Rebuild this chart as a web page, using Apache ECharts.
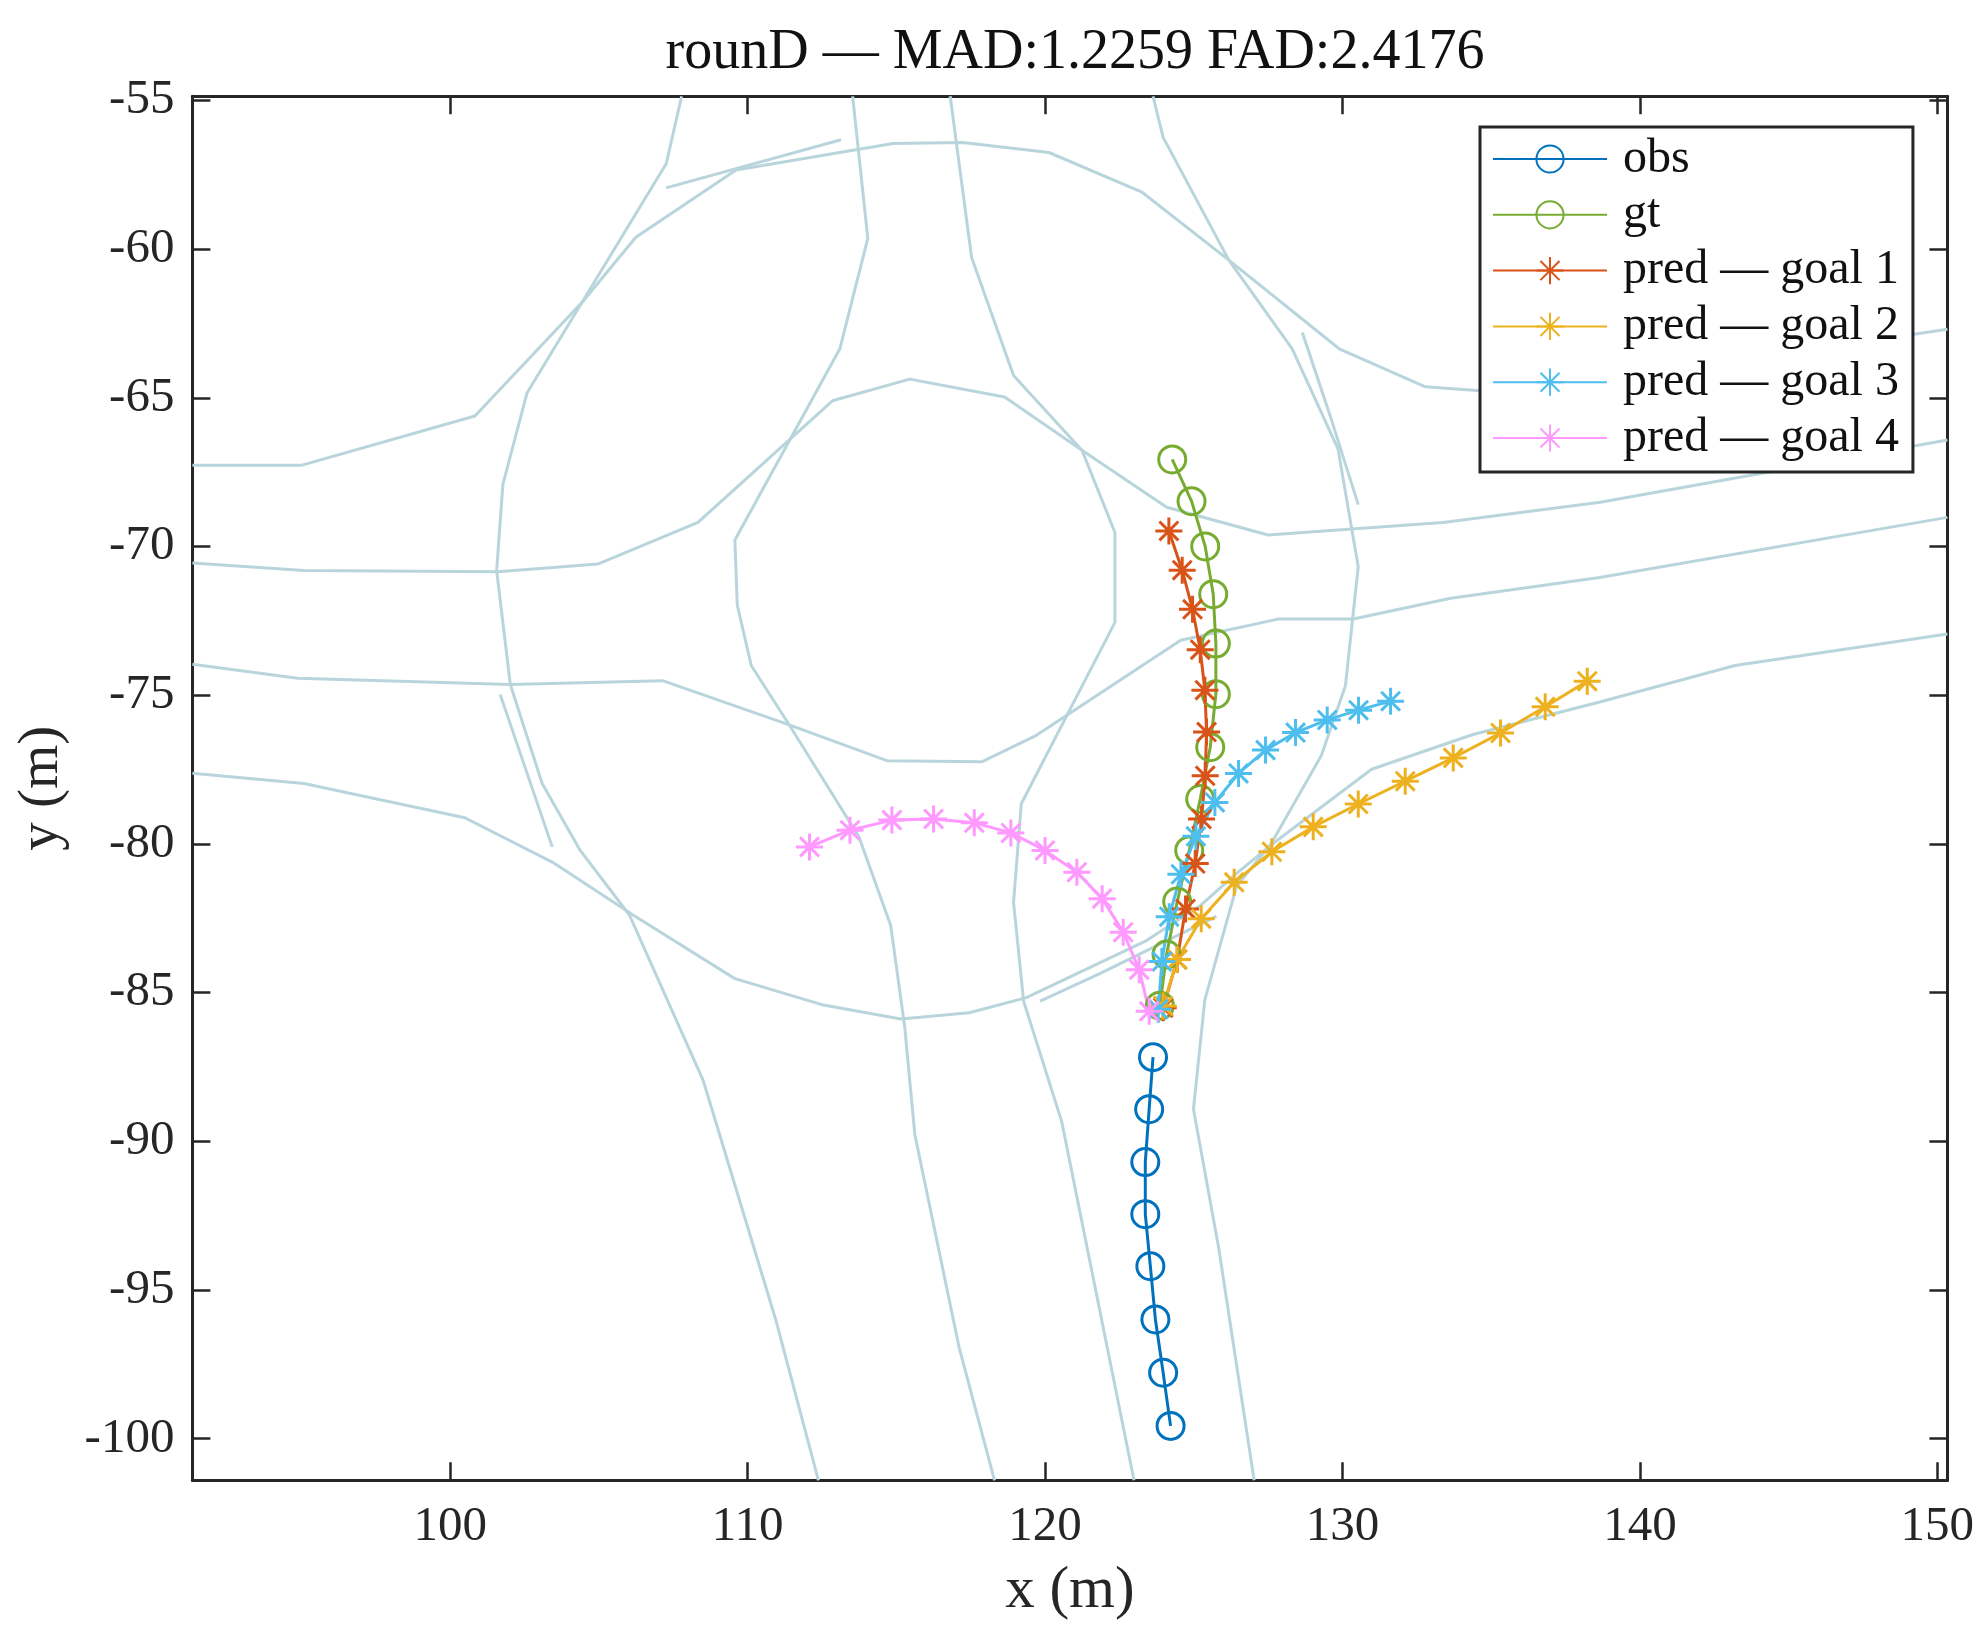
<!DOCTYPE html>
<html><head><meta charset="utf-8">
<style>html,body{margin:0;padding:0;background:#fff}#c{width:1987px;height:1626px}</style>
<script src="https://cdn.jsdelivr.net/npm/echarts@6/dist/echarts.min.js"></script>
</head><body><div id="c"></div>
<script>
const xTicks=[100,110,120,130,140,150];
const yTicks=[-100,-95,-90,-85,-80,-75,-70,-65,-60,-55];
const xRange=[91.33,150.34];
const yRange=[-101.4,-54.86];

const obsX=[124.22,123.97,123.71,123.54,123.37,123.37,123.5,123.63];
const obsY=[-99.57,-97.78,-95.99,-94.2,-92.45,-90.7,-88.92,-87.17];
const gtX=[123.86,124.085,124.443,124.847,125.217,125.553,125.743,125.743,125.654,125.385,124.925,124.275];
const gtY=[-85.44,-83.72,-81.94,-80.22,-78.49,-76.75,-74.966,-73.264,-71.604,-69.998,-68.474,-67.07];
const pred1X=[123.973,124.443,124.723,125.049,125.262,125.385,125.43,125.374,125.217,124.959,124.611,124.163];
const pred1Y=[-85.507,-83.887,-82.186,-80.66,-79.166,-77.71,-76.24,-74.83,-73.47,-72.11,-70.794,-69.476];
const pred2X=[123.97,124.443,125.25,126.36,127.626,129.016,130.53,132.11,133.724,135.315,136.817,138.23];
const pred2Y=[-85.45,-83.887,-82.515,-81.293,-80.264,-79.427,-78.658,-77.89,-77.107,-76.27,-75.39,-74.527];
const pred3X=[123.805,123.928,124.174,124.567,125.071,125.71,126.506,127.414,128.422,129.487,130.54,131.617];
const pred3Y=[-85.56,-83.956,-82.447,-81.02,-79.743,-78.604,-77.63,-76.846,-76.256,-75.83,-75.502,-75.2];
const pred4X=[123.502,123.166,122.628,121.92,121.07,120.0,118.85,117.62,116.25,114.85,113.44,112.08];
const pred4Y=[-85.63,-84.23,-82.968,-81.84,-80.95,-80.22,-79.63,-79.29,-79.16,-79.2,-79.54,-80.1];

const laneA=[[91.33,-67.27],[94.99,-67.27],[100.83,-65.61],[104.45,-61.77],[106.24,-59.6],[109.61,-57.34],[114.89,-56.45],[117.23,-56.41],[120.13,-56.75],[123.24,-58.07],[126.18,-60.37],[129.89,-63.35],[132.79,-64.63],[134.62,-64.76],[140.24,-64.2],[150.34,-62.69]];
const laneB=[[107.78,-54.86],[107.26,-57.13],[102.58,-64.84],[101.77,-67.91],[101.56,-70.81],[102.02,-74.64],[103.09,-77.97],[104.37,-80.22],[106.03,-82.4],[108.5,-87.94],[110.93,-95.95],[112.38,-101.4]];
const laneC=[[91.33,-73.96],[94.87,-74.43],[102.02,-74.64],[107.14,-74.51],[111.4,-76.0],[114.68,-77.2],[117.87,-77.24],[119.71,-76.35],[124.56,-73.15],[127.83,-72.44],[130.36,-72.44],[133.64,-71.74],[138.65,-71.04],[150.34,-69.02]];
const laneD=[[91.33,-70.55],[95.08,-70.81],[101.6,-70.85],[104.96,-70.59],[108.33,-69.19],[112.85,-65.1],[115.45,-64.37],[118.64,-64.97],[121.24,-66.76],[122.35,-69.53],[122.35,-72.55],[119.2,-78.65],[118.94,-81.97],[119.28,-85.29],[120.56,-89.34],[122.99,-101.4]];
const laneE=[[91.33,-77.62],[95.08,-77.97],[100.49,-79.12],[103.43,-80.61],[106.16,-82.4],[109.57,-84.53],[112.55,-85.42],[115.15,-85.89],[117.45,-85.68],[119.37,-85.17],[123.41,-83.25],[125.2,-82.09],[126.44,-80.99],[127.61,-80.03],[130.98,-77.49],[134.39,-76.32],[138.65,-75.23],[143.2,-74.0],[150.34,-72.94]];
const laneF=[[123.63,-54.86],[123.97,-56.24],[126.18,-60.37],[128.31,-63.35],[129.85,-66.72],[130.53,-70.68],[130.1,-74.68],[129.29,-77.03],[127.59,-80.01],[126.44,-81.42],[125.37,-85.25],[124.99,-88.92],[125.84,-93.6],[127.03,-101.4]];
const laneL=[[116.81,-54.86],[117.53,-60.28],[118.94,-64.25],[121.24,-66.76],[124.09,-68.68],[127.5,-69.61],[133.38,-69.19],[138.67,-68.51],[150.34,-66.42]];
const laneM=[[113.53,-54.86],[114.04,-59.64],[113.1,-63.35],[109.57,-69.78],[109.65,-71.96],[110.12,-74.0],[111.4,-76.0],[113.74,-79.76],[114.81,-82.74],[115.28,-86.15],[115.62,-89.77],[117.11,-96.93],[118.3,-101.4]];
const laneG=[[107.26,-57.94],[113.14,-56.32]];
const laneH=[[128.65,-62.8],[129.63,-65.74],[130.53,-68.59]];
const laneI=[[101.68,-74.98],[103.43,-80.1]];
const laneJ=[[119.83,-85.29],[121.84,-84.36],[125.76,-82.44]];
const lanes=[laneA,laneB,laneC,laneD,laneE,laneF,laneL,laneM,laneG,laneH,laneI,laneJ];

const FONT='"Liberation Serif"';
const AXC='#262626';
const LANE='#b9d5dc';
const LW=3;
const STAR='path://M0 10L20 10M10 0L10 20M3 3L17 17M3 17L17 3';
const zip=(a,b)=>a.map((v,i)=>[v,b[i]]);

function track(name,xs,ys,color,symbol){
  return {type:'line',name,data:zip(xs,ys),xAxisIndex:0,yAxisIndex:0,
    symbol,symbolSize:27,showSymbol:true,showAllSymbol:true,
    lineStyle:{color,width:LW},
    itemStyle:{color:'transparent',borderColor:color,borderWidth:LW,opacity:1},
    emphasis:{disabled:true},silent:true,clip:true,z:3};
}
const laneSeries=lanes.map(d=>({type:'line',data:d,xAxisIndex:0,yAxisIndex:0,symbol:'none',
  lineStyle:{color:LANE,width:LW},silent:true,clip:true,z:2}));

const axisCommon={axisLine:{show:true,onZero:false,lineStyle:{color:AXC,width:3}},
  splitLine:{show:false},scale:true};
const tick=vals=>({show:true,inside:true,length:18,lineStyle:{color:AXC,width:2.5},customValues:vals});

const chart=echarts.init(document.getElementById('c'),null,{renderer:'canvas'});
chart.setOption({
  animation:false,backgroundColor:'#fff',
  title:{text:'rounD — MAD:1.2259 FAD:2.4176',top:20,
    textStyle:{fontFamily:FONT,fontWeight:'normal',fontSize:56,color:'#111'},
    left:1070,textAlign:'center'},
  grid:{left:192.4,top:96.3,width:1755,height:1384,containLabel:false,outerBoundsMode:'none'},
  xAxis:[
    {type:'value',position:'bottom',min:xRange[0],max:xRange[1],...axisCommon,
     axisTick:tick(xTicks),
     axisLabel:{customValues:xTicks,color:AXC,fontFamily:FONT,fontSize:49,margin:22},
     name:'x (m)',nameLocation:'middle',nameGap:82,
     nameTextStyle:{fontFamily:FONT,fontSize:59,color:AXC}},
    {type:'value',position:'top',min:xRange[0],max:xRange[1],...axisCommon,
     axisTick:tick(xTicks),axisLabel:{show:false}}
  ],
  yAxis:[
    {type:'value',position:'left',min:yRange[0],max:yRange[1],...axisCommon,
     axisTick:tick(yTicks),
     axisLabel:{customValues:yTicks,color:AXC,fontFamily:FONT,fontSize:49,margin:18},
     name:'y (m)',nameLocation:'middle',nameGap:122,
     nameTextStyle:{fontFamily:FONT,fontSize:57,color:AXC}},
    {type:'value',position:'right',min:yRange[0],max:yRange[1],...axisCommon,
     axisTick:tick(yTicks),axisLabel:{show:false}}
  ],
  legend:{show:true,left:1480,top:127,orient:'vertical',selectedMode:false,
    data:['obs','gt','pred — goal 1','pred — goal 2','pred — goal 3','pred — goal 4'],
    itemWidth:114,itemHeight:34,itemGap:7.8,
    padding:[8,14,10,12],
    backgroundColor:'#fff',borderColor:AXC,borderWidth:3,borderRadius:0,
    textStyle:{fontFamily:FONT,fontSize:48,lineHeight:48,color:'#111',padding:[0,0,0,11]}},
  series:[...laneSeries,
    track('obs',obsX,obsY,'#0072BD','circle'),
    track('gt',gtX,gtY,'#77AC30','circle'),
    track('pred — goal 1',pred1X,pred1Y,'#D95319',STAR),
    track('pred — goal 2',pred2X,pred2Y,'#EDB120',STAR),
    track('pred — goal 3',pred3X,pred3Y,'#4DBEEE',STAR),
    track('pred — goal 4',pred4X,pred4Y,'#FF99FF',STAR)]
});
</script></body></html>
